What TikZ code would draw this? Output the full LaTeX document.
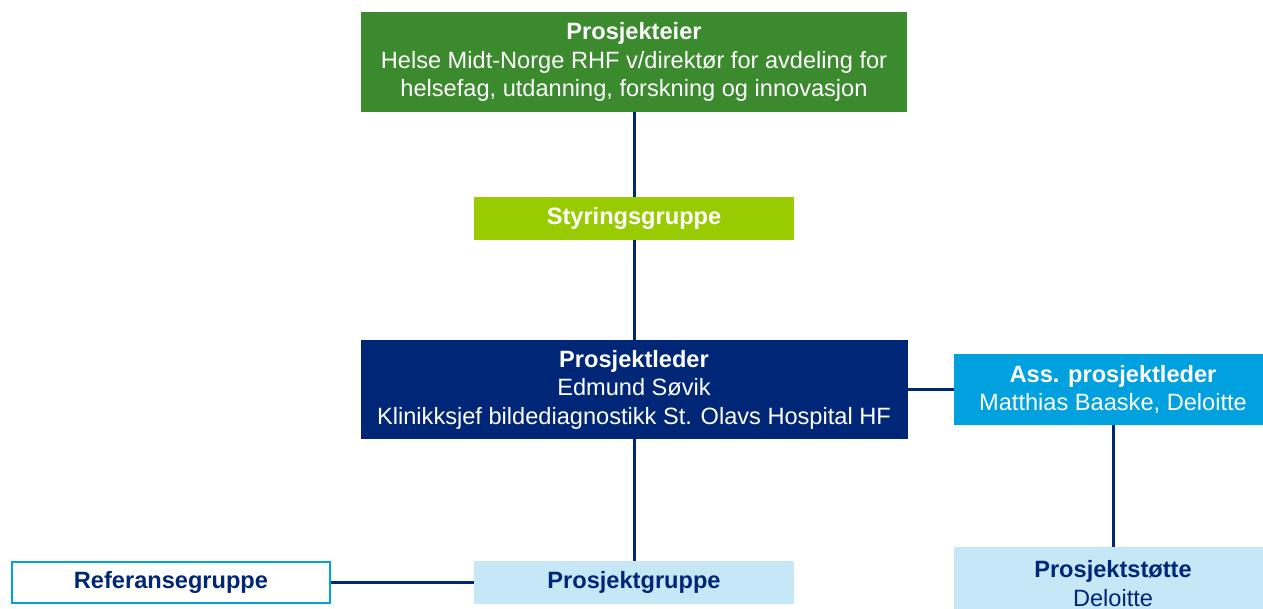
\documentclass[tikz,border=0pt]{standalone}
\usepackage{fontspec}
\setmainfont{Liberation Sans}
\usetikzlibrary{backgrounds}
\definecolor{ownergreen}{HTML}{3C8A2E}
\definecolor{steergreen}{HTML}{99CC00}
\definecolor{navy}{HTML}{002677}
\definecolor{cyanbox}{HTML}{00A1DE}
\definecolor{paleblue}{HTML}{C6E7F5}
\tikzset{
  box/.style={rectangle, inner sep=0pt, align=center, text=white,
    font=\fontsize{11.8}{14.2}\selectfont},
  conn/.style={draw=navy, line width=1.5pt},
}
\begin{document}
\begin{tikzpicture}[x=0.5pt,y=-0.5pt]
\useasboundingbox (0,0) rectangle (1263,609);
\clip (0,0) rectangle (1263,609);
\node[box, fill=ownergreen, minimum width=273pt, minimum height=50pt] (eier) at (634,62)
  {\textbf{Prosjekteier}\\Helse Midt-Norge RHF v/direktør for avdeling for\\helsefag, utdanning, forskning og innovasjon};
\node[box, fill=steergreen, minimum width=160pt, minimum height=21.5pt] (styr) at (634,218.5)
  {\textbf{Styringsgruppe}};
\node[box, fill=navy, minimum width=273.5pt, minimum height=49.5pt] (leder) at (634,389.5)
  {\textbf{Prosjektleder}\\Edmund  Søvik\\Klinikksjef bildediagnostikk St. Olavs Hospital HF};
\node[box, fill=cyanbox, minimum width=159pt, minimum height=35.5pt] (ass) at (1113,389.5)
  {\textbf{Ass. prosjektleder}\\Matthias Baaske, Deloitte};
\node[box, fill=paleblue, text=navy, minimum width=159pt, minimum height=36.5pt] (stotte) at (1113,583.5)
  {\textbf{Prosjektstøtte}\\Deloitte};
\node[box, fill=paleblue, text=navy, minimum width=160pt, minimum height=21.5pt] (gruppe) at (634,582.5)
  {\textbf{Prosjektgruppe}};
\node[box, fill=white, draw=cyanbox, line width=1pt, text=navy, minimum width=159pt, minimum height=20.5pt] (ref) at (171,582.5)
  {\textbf{Referansegruppe}};
\begin{scope}[on background layer]
\draw[conn] (eier.south) -- (styr.north);
\draw[conn] (styr.south) -- (leder.north);
\draw[conn] (leder.south) -- (gruppe.north);
\draw[conn] (leder.east) -- (ass.west);
\draw[conn] (ass.south) -- (stotte.north);
\draw[conn] (ref.east) -- (gruppe.west);
\end{scope}
\end{tikzpicture}
\end{document}
